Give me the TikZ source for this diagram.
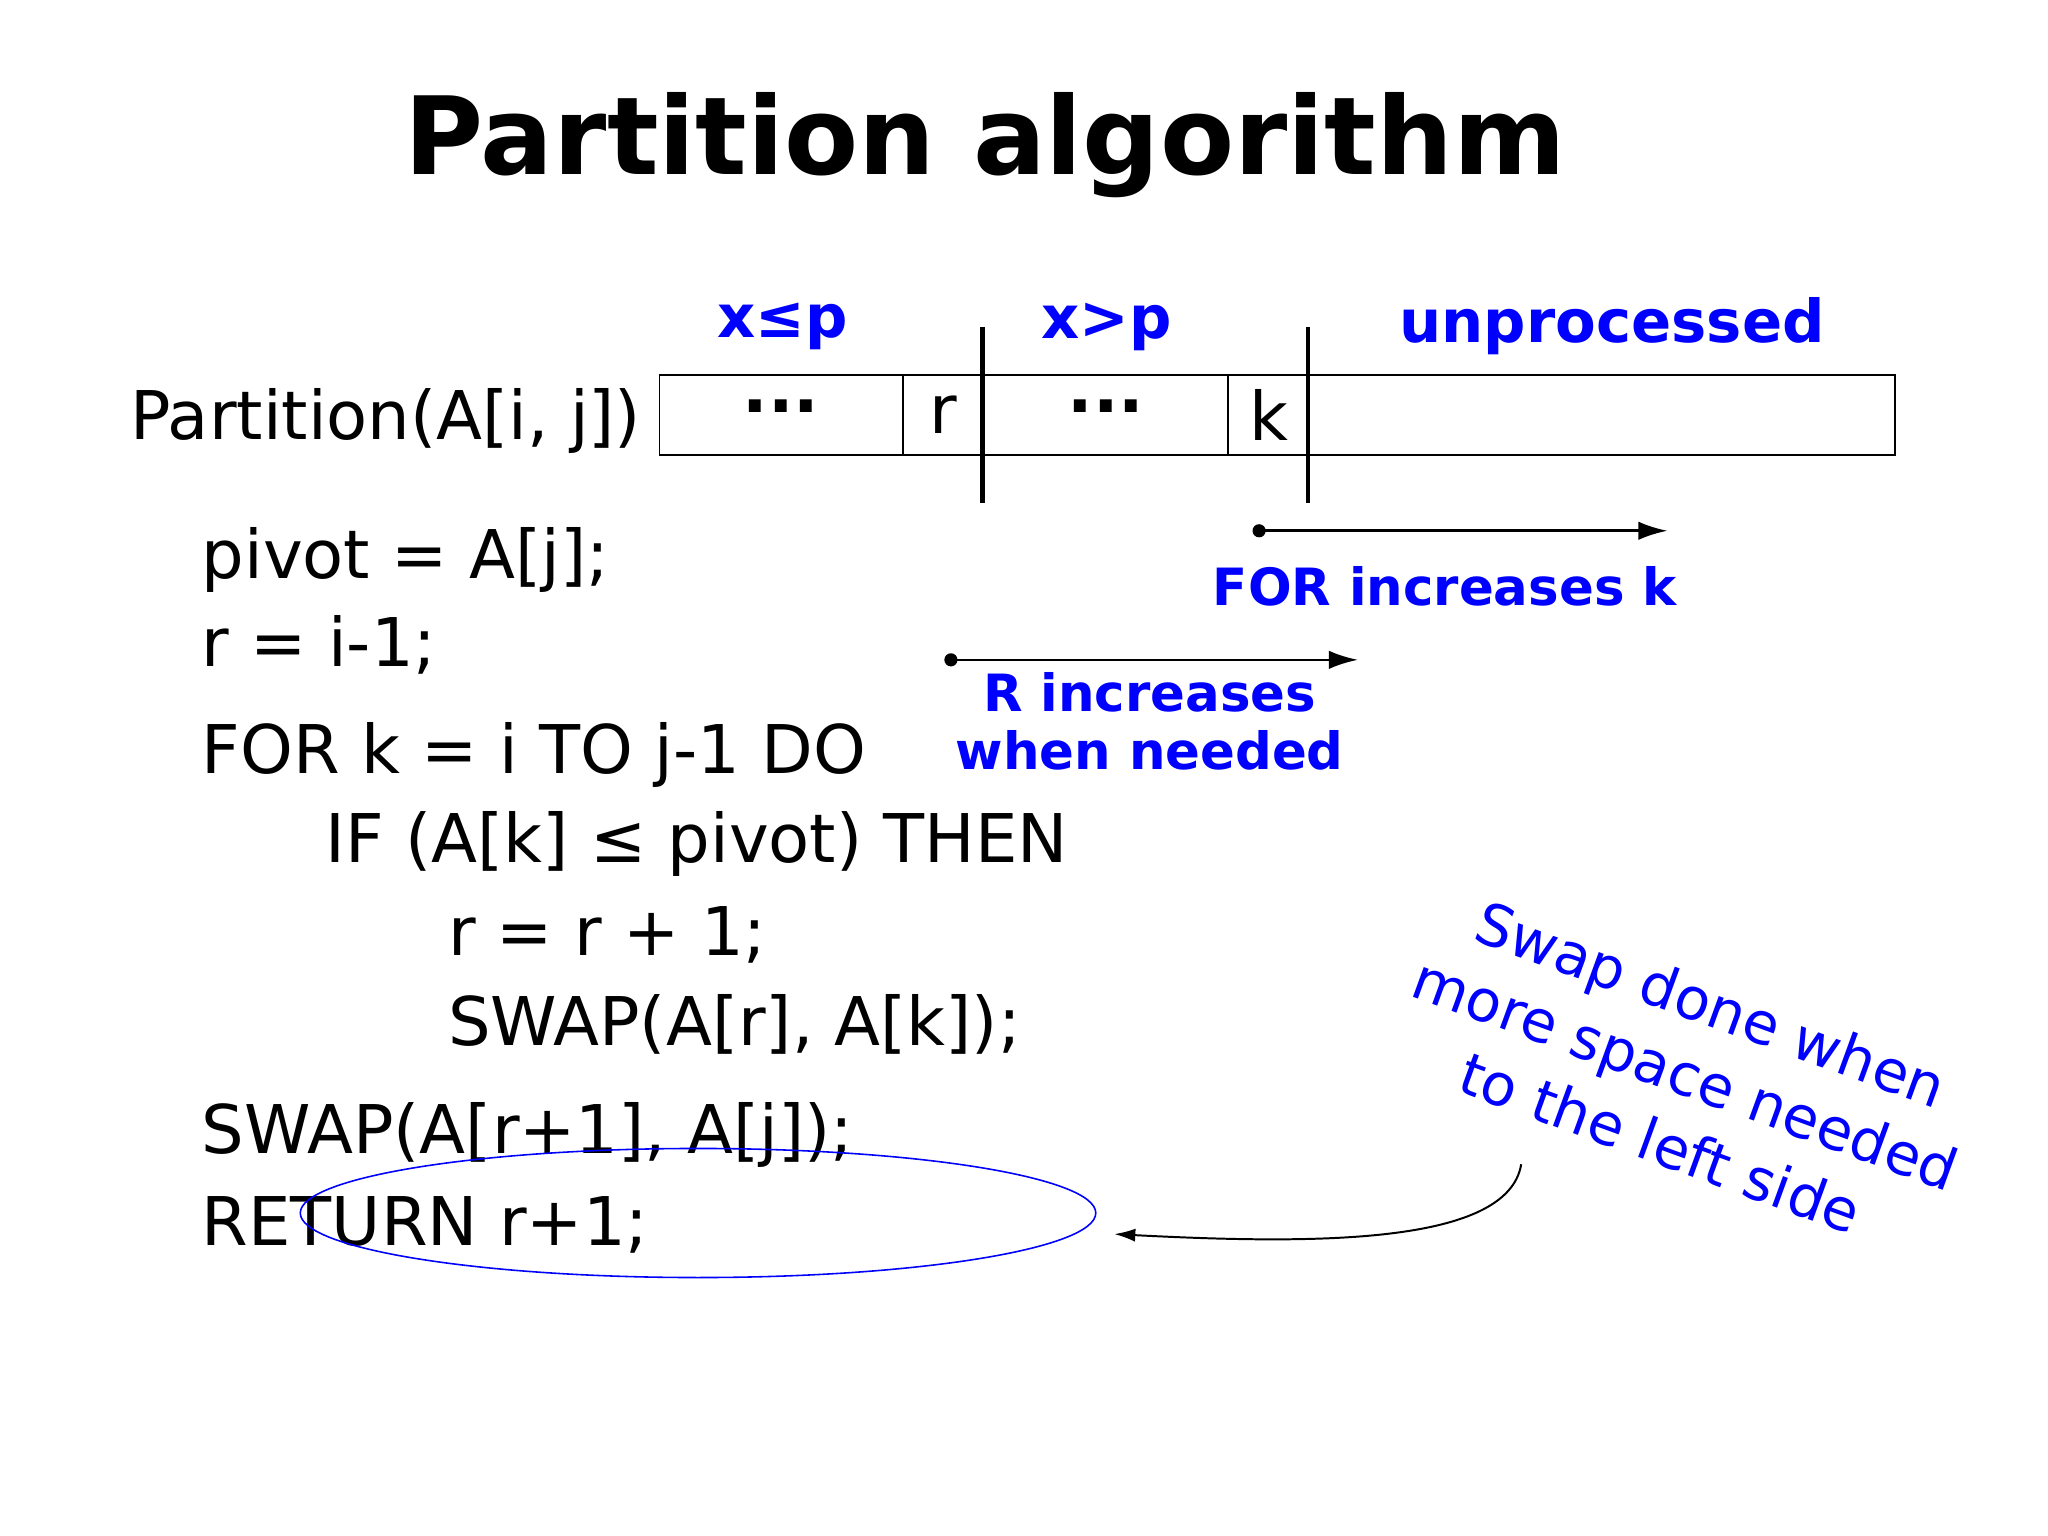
\documentclass[tikz,border=0pt]{standalone}
\usepackage{fontspec}
\setmainfont{DejaVu Sans}
\usetikzlibrary{arrows.meta,shapes.geometric}
\begin{document}
\begin{tikzpicture}[x=1pt,y=-1pt,
  code/.style={anchor=west,inner sep=0pt,font=\fontsize{51}{60}\selectfont},
  lab/.style={text=blue,font=\bfseries\fontsize{45}{52}\selectfont,inner sep=0pt},
  small/.style={text=blue,font=\bfseries\fontsize{39}{44}\selectfont,inner sep=0pt},
  cell/.style={draw,line width=1.2pt,minimum height=61pt,inner sep=0pt,anchor=north west,font=\fontsize{51}{60}\selectfont},
  bar/.style={line width=3.5pt},
  arr/.style={line width=2pt,-{Latex[length=22pt,width=14pt]}}]
\useasboundingbox (0,0) rectangle (1555,1166);
\node[font=\bfseries\fontsize{82}{90}\selectfont] (title) at (748,110) {Partition algorithm};
\node[code,anchor=east] (part) at (487,320) {Partition(A[i, j])};
\node[cell,minimum width=185pt] (c1) at (500,284) {\textbf{···}};
\node[cell,minimum width=61pt] (c2) at (685,284) {r};
\node[cell,minimum width=186pt] (c3) at (746,284) {\textbf{···}};
\node[cell,minimum width=61pt] (c4) at (932,284) {k};
\node[cell,minimum width=445pt] (c5) at (993,284) {};
\coordinate (b1t) at (746,248); \coordinate (b1b) at (746,382);
\coordinate (b2t) at (993,248); \coordinate (b2b) at (993,382);
\draw[bar] (b1t) -- (b1b); \draw[bar] (b2t) -- (b2b);
\node[lab] (l1) at (594,248) {x≤p};
\node[lab] (l2) at (840,248) {x>p};
\node[lab] (l3) at (1224,248) {unprocessed};
\coordinate (a1s) at (956,403); \coordinate (a1e) at (1266,403);
\fill (a1s) circle (5pt); \draw[arr] (a1s) -- (a1e);
\node[small] (t1) at (1097,445) {FOR increases k};
\coordinate (a2s) at (722,501); \coordinate (a2e) at (1031,501);
\fill (a2s) circle (5pt); \draw[arr] (a2s) -- (a2e);
\node[small,align=center] (t2) at (873,548) {R increases\\when needed};
\node[code] (p1) at (153,425) {pivot = A[j];};
\node[code] (p2) at (153,490) {r = i-1;};
\node[code] (p3) at (153,573) {FOR k = i TO j-1 DO};
\node[code] (p4) at (247,641) {IF (A[k] ≤ pivot) THEN};
\node[code] (p5) at (340,710) {r = r + 1;};
\node[code] (p6) at (340,778) {SWAP(A[r], A[k]);};
\node[code] (p7) at (153,862) {SWAP(A[r+1], A[j]);};
\node[code] (p8) at (153,930) {RETURN r+1;};
\node[draw=blue,line width=1.2pt,ellipse,minimum width=604pt,minimum height=98pt,inner sep=0pt] (ell) at (530,921) {};
\node[text=blue,rotate=-20,align=center,font=\fontsize{44}{56}\selectfont] (swap) at (1280,815) {Swap done when\\more space needed\\to the left side};
\coordinate (cs) at (1155,884); \coordinate (ce) at (846,937);
\draw[line width=1.5pt,-{Latex[length=16pt,width=10pt]}] (cs) .. controls (1145,945) and (1000,945) .. (ce);
\end{tikzpicture}
\end{document}
